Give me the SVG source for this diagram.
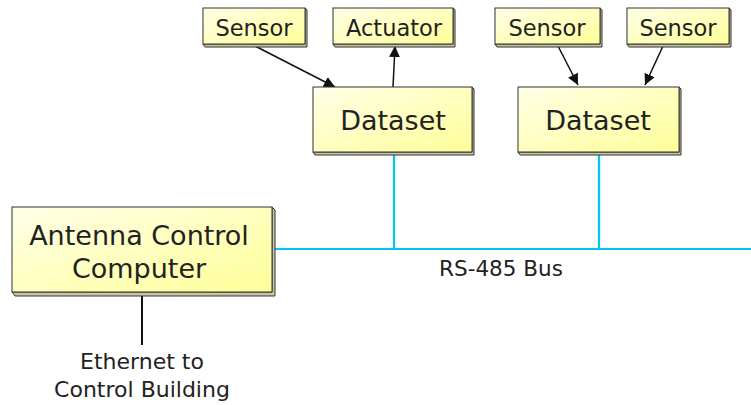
<svg xmlns="http://www.w3.org/2000/svg" width="751" height="405" viewBox="0 0 751 405">
<style>
.box{fill:url(#g);stroke:#333;stroke-width:1}
.sh{fill:#c8c8a0;stroke:#333;stroke-width:1}
.t{font-family:"DejaVu Sans","Liberation Sans",Arial,sans-serif;fill:#222;text-anchor:middle}
.s{font-size:22.5px}
.l{font-size:27px}
.m{font-size:22px}
.bus{stroke:#00c8f0;stroke-width:2.2;fill:none}
.arr{stroke:#111;stroke-width:1.5;fill:none;marker-end:url(#ah)}
</style>
<defs>
<linearGradient id="g" x1="0" y1="0" x2="1" y2="1">
<stop offset="0" stop-color="#ffffe8"/>
<stop offset="1" stop-color="#ffff99"/>
</linearGradient>
<marker id="ah" viewBox="0 0 10 10" refX="10" refY="5" markerWidth="11" markerHeight="11" markerUnits="userSpaceOnUse" orient="auto">
<path d="M0,0 L10,5 L0,10 z" fill="#111"/>
</marker>
</defs>
<g id="connectors">
<line class="bus" x1="273" y1="249" x2="751" y2="249"/>
<line class="bus" x1="394" y1="153" x2="394" y2="249"/>
<line class="bus" x1="599" y1="153" x2="599" y2="249"/>
<line x1="142" y1="296" x2="142" y2="345" stroke="#111" stroke-width="2"/>
<line class="arr" x1="255" y1="46" x2="335" y2="87"/>
<line class="arr" x1="393" y1="87" x2="395" y2="46"/>
<line class="arr" x1="558" y1="46" x2="578" y2="85"/>
<line class="arr" x1="663" y1="46" x2="645" y2="85"/>
</g>
<g id="sensor1">
<path class="sh" d="M203,44 L305,44 L305,8 L307,10 L307,47 L205,47 Z"/>
<rect class="box" x="203" y="8" width="102" height="36"/>
<text class="t s" x="254" y="36">Sensor</text>
</g>
<g id="actuator">
<path class="sh" d="M333,44 L453,44 L453,8 L455,10 L455,47 L335,47 Z"/>
<rect class="box" x="333" y="8" width="120" height="36"/>
<text class="t s" x="394" y="36">Actuator</text>
</g>
<g id="sensor3">
<path class="sh" d="M495,44 L600,44 L600,8 L602,10 L602,47 L497,47 Z"/>
<rect class="box" x="495" y="8" width="105" height="36"/>
<text class="t s" x="547" y="36">Sensor</text>
</g>
<g id="sensor4">
<path class="sh" d="M627,44 L729,44 L729,8 L731,10 L731,47 L629,47 Z"/>
<rect class="box" x="627" y="8" width="102" height="36"/>
<text class="t s" x="678" y="36">Sensor</text>
</g>
<g id="dataset1">
<path class="sh" d="M313,152 L472,152 L472,87 L474,89 L474,155 L315,155 Z"/>
<rect class="box" x="313" y="87" width="159" height="65"/>
<text class="t l" x="393" y="130">Dataset</text>
</g>
<g id="dataset2">
<path class="sh" d="M518,152 L679,152 L679,87 L681,89 L681,155 L520,155 Z"/>
<rect class="box" x="518" y="87" width="161" height="65"/>
<text class="t l" x="598" y="130">Dataset</text>
</g>
<g id="acc">
<path class="sh" d="M12,292 L272,292 L272,207 L275,210 L275,296 L15,296 Z"/>
<rect class="box" x="12" y="207" width="260" height="85"/>
<text class="t l" x="139" y="245">Antenna Control</text>
<text class="t l" x="139" y="278">Computer</text>
</g>
<text class="t" x="501" y="276" font-size="21.5">RS-485 Bus</text>
<text class="t m" x="142" y="369">Ethernet to</text>
<text class="t m" x="142" y="397">Control Building</text>
</svg>
